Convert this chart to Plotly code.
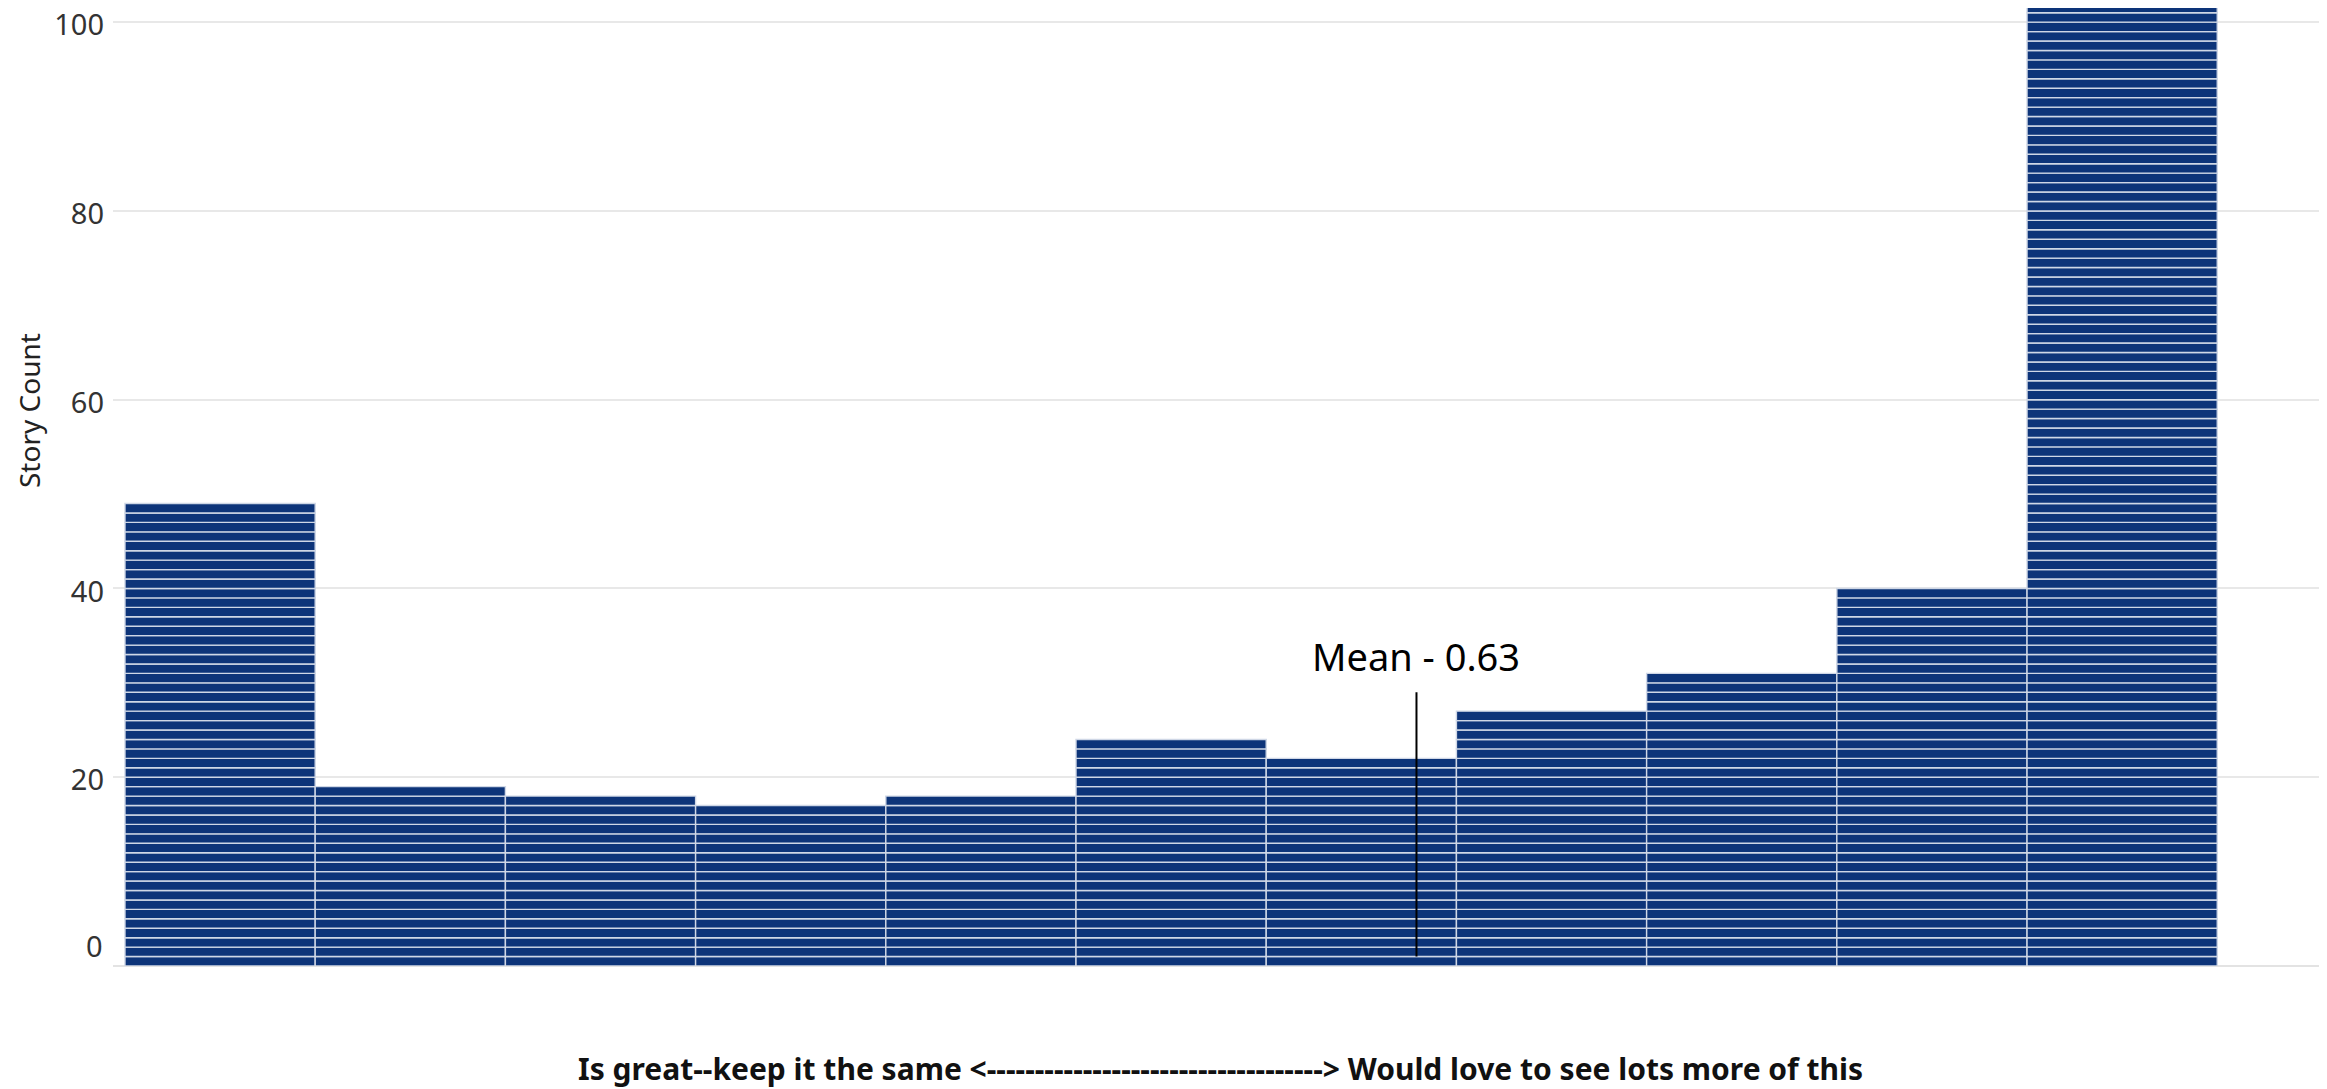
import plotly.graph_objects as go

# ---- data ----
bin_index = list(range(11))
story_count = [49, 19, 18, 17, 18, 24, 22, 27, 31, 40, 106]
y_ticks = [20, 40, 60, 80, 100]
y_zero_label = "0"
mean_label = "Mean - 0.63"
mean_position = 6.29          # in bin-index units
mean_line_span = [1, 29]      # story-count units
x_title = "Is great--keep it the same <" + "-" * 35 + "> Would love to see lots more of this"
y_title = "Story Count"

# each story is one stacked unit block
xs, bases, heights = [], [], []
for b, c in zip(bin_index, story_count):
    for k in range(c):
        xs.append(b)
        bases.append(k)
        heights.append(1)

# the page body adds an 8px offset, so the figure is 8px smaller than the window
W, H = 2319, 1081
L, R, T, B = 105, 0, 0, 123
PW, PH = W - L - R, H - T - B
TICK_FONT = dict(size=29, color="#333", family="Noto Sans")

fig = go.Figure()
fig.add_trace(go.Bar(
    x=xs, y=heights, base=bases, width=1.0,
    marker=dict(color="#0d3479", line=dict(color="#cfd7e6", width=1.4)),
    hoverinfo="skip", showlegend=False,
))
fig.add_trace(go.Scatter(
    x=[mean_position, mean_position], y=mean_line_span, mode="lines",
    line=dict(color="black", width=2), hoverinfo="skip", showlegend=False,
))
fig.add_annotation(
    x=mean_position, y=32.8, text=mean_label, showarrow=False,
    font=dict(size=38, color="black", family="Noto Sans"),
    xanchor="center", yanchor="middle",
)
# zero tick label sits a little above the baseline, as in the reference
fig.add_annotation(
    xref="paper", yref="y", x=0, y=0, xshift=-8, yshift=21,
    text=y_zero_label, showarrow=False, font=TICK_FONT,
    xanchor="right", yanchor="middle",
)
fig.add_annotation(
    xref="paper", yref="paper", x=(21 - L) / PW, y=(PH - 403) / PH,
    text=y_title, textangle=-90, showarrow=False,
    font=dict(size=28, color="#222", family="Noto Sans"),
    xanchor="center", yanchor="middle",
)
fig.add_annotation(
    xref="paper", yref="paper", x=0.5, y=(PH - 1060) / PH,
    text="<b>" + x_title + "</b>", showarrow=False,
    font=dict(size=30, color="#111", family="Noto Sans"),
    xanchor="center", yanchor="middle",
)

fig.update_layout(
    width=W, height=H,
    margin=dict(l=L, r=R, t=T, b=B, pad=0, autoexpand=False),
    paper_bgcolor="white", plot_bgcolor="white",
    barmode="overlay",
    showlegend=False,
    font=dict(family="Noto Sans", color="#333"),
)
fig.update_xaxes(
    range=[-0.563, 11.077], showticklabels=False, showgrid=False,
    zeroline=False, showline=False, ticks="", automargin=False,
)
fig.update_yaxes(
    range=[0, 101.5], tickvals=y_ticks, showgrid=True, gridcolor="#e8e8e8",
    gridwidth=1.5, zeroline=True, zerolinecolor="#e3e3e3", zerolinewidth=1.5,
    showline=False, ticks="", tickfont=TICK_FONT,
    ticklabelstandoff=8, ticklabelshift=3, ticklabeloverflow="allow",
    automargin=False,
)

fig.write_html("out.html")
